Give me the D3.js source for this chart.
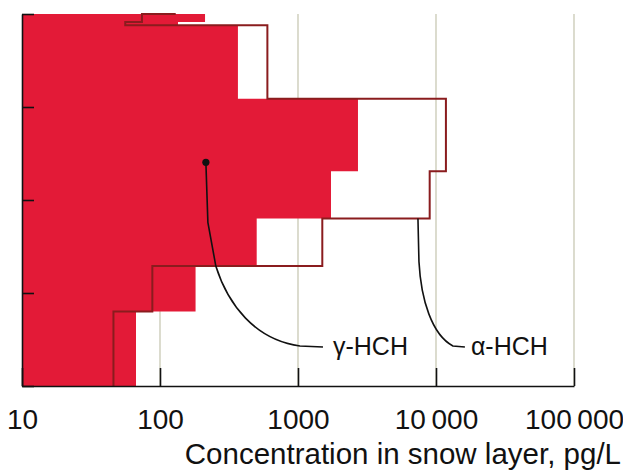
<!DOCTYPE html>
<html>
<head>
<meta charset="utf-8">
<script src="https://cdn.jsdelivr.net/npm/d3@7"></script>
<style>
  html, body { margin: 0; padding: 0; background: #fff; }
  svg { display: block; }
  text { font-family: "Liberation Sans", Arial, sans-serif; fill: #111; }
</style>
</head>
<body>
<div id="chart"></div>
<script>
// Snow-pit profile: depth layers (top = surface) and HCH concentration per layer.
const layerBounds = [0, 0.85, 1.2, 9.1, 16.9, 22, 27.1, 32, 40];   // depth boundaries of the layers
const gammaHCH    = [212, 135, 367, 2720, 1734, 502, 181, 67];      // pg/L per layer (filled)
const alphaHCH    = [74, 56, 600, 11800, 9000, 1500, 88, 46];       // pg/L per layer (outline)
const alphaSurface = 130;                                           // surface reading, pg/L
const depthTicks  = [0, 10, 20, 30, 40];
const concTicks   = [10, 100, 1000, 10000, 100000];
const concLabels  = ["10", "100", "1000", "10\u2009000", "100\u2009000"];
const gridValues  = [100, 1000, 10000, 100000];

const W = 623, H = 476;
const svg = d3.select("#chart").append("svg").attr("width", W).attr("height", H);

const x = d3.scaleLog().domain([10, 100000]).range([22, 574]);
const y = d3.scaleLinear().domain([0, 40]).range([14, 386]);

// vertical grid lines
svg.append("g").selectAll("line").data(gridValues).join("line")
  .attr("x1", d => x(d)).attr("x2", d => x(d))
  .attr("y1", y(0)).attr("y2", y(40))
  .attr("stroke", "#d3d3c2").attr("stroke-width", 1.6);

// step profile points for a layered series
function stepPoints(values) {
  const pts = [];
  values.forEach((v, i) => {
    pts.push([v, layerBounds[i]]);
    pts.push([v, layerBounds[i + 1]]);
  });
  return pts;
}
const line = d3.line().x(d => x(d[0])).y(d => y(d[1]));

// γ-HCH filled profile
const gammaPts = [[10, 0], ...stepPoints(gammaHCH), [10, 40]];
svg.append("path").attr("d", line(gammaPts) + "Z")
  .attr("fill", "#e31a37").attr("stroke", "none");

// α-HCH outline profile
const alphaPts = [[alphaSurface, 0], ...stepPoints(alphaHCH)];
svg.append("path").attr("d", line(alphaPts))
  .attr("fill", "none").attr("stroke", "#8a1c1e").attr("stroke-width", 2);

// axes
const yAxis = d3.axisRight(y).tickValues(depthTicks).tickSize(12).tickSizeOuter(0).tickFormat("");
const yg = svg.append("g").attr("transform", `translate(${x(10)},0)`).call(yAxis);
yg.select(".domain").attr("stroke", "#111").attr("stroke-width", 1.6);
yg.selectAll(".tick line").attr("stroke", "#111").attr("stroke-width", 1.6);

const xAxis = d3.axisBottom(x).tickValues(concTicks).tickSize(-18).tickSizeOuter(0)
  .tickPadding(23).tickFormat((d, i) => concLabels[i]);
const xg = svg.append("g").attr("transform", `translate(0,${y(40)})`).call(xAxis);
xg.select(".domain").attr("stroke", "#111").attr("stroke-width", 1.6);
xg.selectAll(".tick line").attr("stroke", "#111").attr("stroke-width", 1.6);
xg.selectAll(".tick text").attr("font-size", 28).attr("font-family", "Liberation Sans, Arial, sans-serif").attr("fill", "#111");

// axis title
svg.append("text").attr("x", 621).attr("y", 464).attr("text-anchor", "end")
  .attr("font-size", 29.5).text("Concentration in snow layer, pg/L");

// series labels with leader lines
const gStart = [x(215), y(15.95)];
const gEnd = [x(1517), y(35.8)];
const gPath = d3.path();
gPath.moveTo(gStart[0], gStart[1]);
gPath.lineTo(gStart[0] + 2, gStart[1] + 60);
gPath.lineTo(gStart[0] + 10, gStart[1] + 104);
gPath.bezierCurveTo(gStart[0] + 22, gStart[1] + 142, gStart[0] + 49, gEnd[1] - 7, gEnd[0] - 23, gEnd[1] - 1);
gPath.lineTo(gEnd[0], gEnd[1]);
svg.append("path").attr("d", gPath.toString())
  .attr("fill", "none").attr("stroke", "#111").attr("stroke-width", 1.6);
svg.append("circle").attr("cx", gStart[0]).attr("cy", gStart[1]).attr("r", 3.6).attr("fill", "#111");
svg.append("text").attr("x", gEnd[0] + 10).attr("y", gEnd[1] + 8.5)
  .attr("font-size", 25).text("γ-HCH");

const aStart = [x(7400), y(22)];
const aEnd = [x(16200), y(35.8)];
const aPath = d3.path();
aPath.moveTo(aStart[0], aStart[1]);
aPath.lineTo(aStart[0] + 1, aStart[1] + 43);
aPath.bezierCurveTo(aStart[0] + 3, aStart[1] + 81, aStart[0] + 14, aEnd[1] - 12, aEnd[0] - 12, aEnd[1] - 1);
aPath.lineTo(aEnd[0], aEnd[1]);
svg.append("path").attr("d", aPath.toString())
  .attr("fill", "none").attr("stroke", "#111").attr("stroke-width", 1.6);
svg.append("text").attr("x", aEnd[0] + 6).attr("y", aEnd[1] + 8.5)
  .attr("font-size", 25).text("α-HCH");
</script>
</body>
</html>
